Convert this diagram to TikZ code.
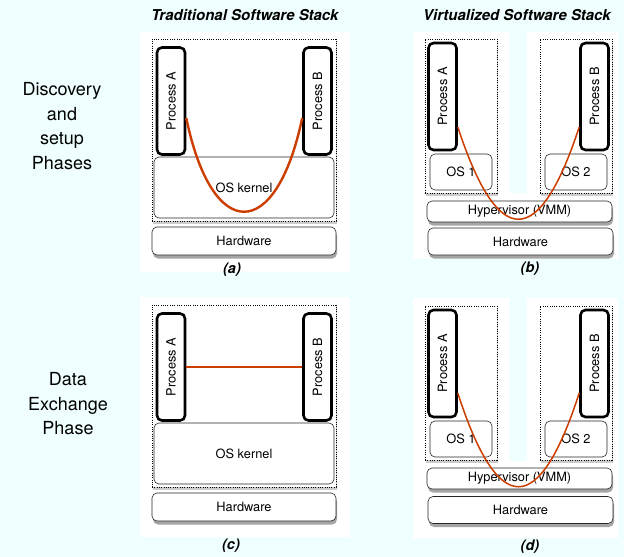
\documentclass[tikz,border=0pt]{standalone}
\usepackage{graphicx}
\usepackage{fontspec}
\setmainfont{TeX Gyre Heros}
\usepackage{tikz}
\usetikzlibrary{positioning}
\usetikzlibrary{calc}
\usetikzlibrary{shadows}
\definecolor{bgcyan}{RGB}{239,254,254}
\definecolor{linkred}{RGB}{204,62,0}
\newcommand{\procnode}[3]{\node(#1)[proc] at (#2) {\rotatebox{90}{#3}}}
\newcommand{\layernode}[5]{\node(#1)[layer,minimum width=#3,minimum height=#4] at (#2) {#5}}

\begin{document}
\begin{tikzpicture}[
        x=1pt, y=-1pt,
        every node/.style={font=\fontsize{12.8}{14}\selectfont},
        panel/.style={fill=white},
        vmbox/.style={rectangle,draw=black,line width=0.6pt,dash pattern=on 1pt off 1.3pt,fill=white,
                      drop shadow={shadow xshift=0.8pt,shadow yshift=-2.5pt,opacity=.4}},
        proc/.style={rectangle,draw=black,line width=2.6pt,rounded corners=5pt,fill=white,
                     minimum width=28pt,minimum height=107pt,inner sep=0pt},
        layer/.style={rectangle,draw=black!85,line width=0.6pt,rounded corners=5pt,fill=white,inner sep=0pt},
        base/.style={layer,drop shadow={shadow xshift=1pt,shadow yshift=-3.5pt,opacity=.7}},
        heading/.style={font=\fontsize{15}{17}\bfseries\itshape\selectfont},
        caption/.style={font=\fontsize{14.5}{16}\bfseries\itshape\selectfont},
        phase/.style={align=center,font=\fontsize{18}{24.5}\selectfont},
        link/.style={draw=linkred,line width=1.5pt}
      ]
      \useasboundingbox[fill=bgcyan] (0,0) rectangle (624,557);
      \fill[panel] (140,32) rectangle (350,272);
      \fill[panel] (140,297) rectangle (350,537);
      \fill[panel] (413,32) -- (509,32) -- (509,193) -- (527,193) -- (527,32) -- (618,32) -- (618,259) -- (413,259) -- cycle;
      \fill[panel] (413,298) -- (509,298) -- (509,461) -- (527,461) -- (527,298) -- (618,298) -- (618,538) -- (413,538) -- cycle;

      \node(titleA)[heading] at (245,15) {Traditional Software Stack};
      \node(titleB)[heading] at (517,15) {Virtualized Software Stack};
      \node(phaseTop)[phase] at (62,126) {Discovery\\and\\setup\\Phases};
      \node(phaseBot)[phase] at (68,404) {Data\\Exchange\\Phase};

      % (a)
      \node(stackA)[vmbox,minimum width=184pt,minimum height=182pt] at (244,130) {};
      \layernode{kernelA}{244,187.5}{180pt}{61pt}{OS kernel};
      \node(hwA)[base,minimum width=184pt,minimum height=28pt] at (244,241) {Hardware};
      \procnode{procAa}{171,101}{Process A};
      \procnode{procBa}{317.5,101}{Process B};
      \node(capA)[caption] at (232,270) {(a)};

      % (c)
      \node(stackC)[vmbox,minimum width=184pt,minimum height=182pt] at (244,396) {};
      \layernode{kernelC}{244,453.5}{180pt}{61pt}{OS kernel};
      \node(hwC)[base,minimum width=184pt,minimum height=28pt] at (244,507) {Hardware};
      \procnode{procAc}{171,367}{Process A};
      \procnode{procBc}{317.5,367}{Process B};
      \node(capC)[caption] at (231,546) {(c)};

      % (b)
      \node(vm1b)[vmbox,minimum width=72pt,minimum height=154pt] at (461,116) {};
      \node(vm2b)[vmbox,minimum width=72pt,minimum height=154pt] at (576,116) {};
      \procnode{procAb}{442.5,96.5}{Process A};
      \procnode{procBb}{594.5,96.5}{Process B};
      \layernode{os1b}{461,172}{62pt}{36pt}{OS 1};
      \layernode{os2b}{576,172}{62pt}{36pt}{OS 2};
      \node(hypb)[base,minimum width=185pt,minimum height=21pt] at (519.5,211.5) {Hypervisor (VMM)};
      \node(hwb)[base,minimum width=185pt,minimum height=27pt] at (520.5,241.5) {Hardware};
      \node(capB)[caption] at (530,269) {(b)};

      % (d)
      \node(vm1d)[vmbox,minimum width=72pt,minimum height=154pt] at (461,383) {};
      \node(vm2d)[vmbox,minimum width=72pt,minimum height=154pt] at (576,383) {};
      \procnode{procAd}{442.5,363.5}{Process A};
      \procnode{procBd}{594.5,363.5}{Process B};
      \layernode{os1d}{461,439}{62pt}{36pt}{OS 1};
      \layernode{os2d}{576,439}{62pt}{36pt}{OS 2};
      \node(hypd)[base,minimum width=185pt,minimum height=21pt] at (519.5,478.5) {Hypervisor (VMM)};
      \node(hwd)[base,minimum width=185pt,minimum height=27pt] at (520.5,510) {Hardware};
      \node(capD)[caption] at (530,547) {(d)};

      \draw[link,line width=2.4pt] ([yshift=-17pt]procAa.east) .. controls (212,243) and (276,243) .. ([yshift=-17pt]procBa.west);
      \draw[link] (procAc.east) -- (procBc.west);
      \draw[link] ([yshift=-30.5pt]procAb.east) .. controls (498,250) and (539,250) .. ([yshift=-30.5pt]procBb.west);
      \draw[link] ([yshift=-29.5pt]procAd.east) .. controls (498,518) and (539,518) .. ([yshift=-29.5pt]procBd.west);
    \end{tikzpicture}
\end{document}
